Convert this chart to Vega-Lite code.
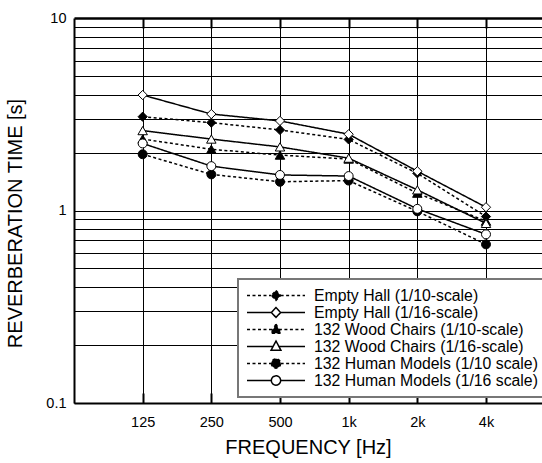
{
  "$schema": "https://vega.github.io/schema/vega-lite/v6.json",
  "width": 468,
  "height": 385,
  "autosize": {"type": "none"},
  "padding": {"left": 74, "top": 18, "right": 0, "bottom": 60},
  "background": "white",
  "config": {
    "view": {"stroke": null}, "font": "Liberation Sans",
    "legend": {
      "orient": "none", "symbolSize": 3364, "symbolStrokeWidth": 1.5, "symbolStrokeColor": "black", "symbolOpacity": 1,
      "labelFont": "Liberation Sans", "labelFontSize": 15.8, "labelColor": "black", "labelOffset": 8, "labelLimit": 400,
      "clipHeight": 17, "rowPadding": 0, "padding": 8, "fillColor": "white", "strokeColor": "#777777"
    }
  },
  "data": {"values": [
    {"series": "Empty Hall (1/10-scale)", "freq": 125, "rt": 3.07},
    {"series": "Empty Hall (1/10-scale)", "freq": 250, "rt": 2.86},
    {"series": "Empty Hall (1/10-scale)", "freq": 500, "rt": 2.62},
    {"series": "Empty Hall (1/10-scale)", "freq": 1000, "rt": 2.34},
    {"series": "Empty Hall (1/10-scale)", "freq": 2000, "rt": 1.56},
    {"series": "Empty Hall (1/10-scale)", "freq": 4000, "rt": 0.93},
    {"series": "132 Wood Chairs (1/10-scale)", "freq": 125, "rt": 2.35},
    {"series": "132 Wood Chairs (1/10-scale)", "freq": 250, "rt": 2.08},
    {"series": "132 Wood Chairs (1/10-scale)", "freq": 500, "rt": 1.94},
    {"series": "132 Wood Chairs (1/10-scale)", "freq": 1000, "rt": 1.85},
    {"series": "132 Wood Chairs (1/10-scale)", "freq": 2000, "rt": 1.23},
    {"series": "132 Wood Chairs (1/10-scale)", "freq": 4000, "rt": 0.88},
    {"series": "132 Human Models (1/10 scale)", "freq": 125, "rt": 1.96},
    {"series": "132 Human Models (1/10 scale)", "freq": 250, "rt": 1.54},
    {"series": "132 Human Models (1/10 scale)", "freq": 500, "rt": 1.41},
    {"series": "132 Human Models (1/10 scale)", "freq": 1000, "rt": 1.43},
    {"series": "132 Human Models (1/10 scale)", "freq": 2000, "rt": 0.99},
    {"series": "132 Human Models (1/10 scale)", "freq": 4000, "rt": 0.667},
    {"series": "Empty Hall (1/16-scale)", "freq": 125, "rt": 3.98},
    {"series": "Empty Hall (1/16-scale)", "freq": 250, "rt": 3.17},
    {"series": "Empty Hall (1/16-scale)", "freq": 500, "rt": 2.92},
    {"series": "Empty Hall (1/16-scale)", "freq": 1000, "rt": 2.49},
    {"series": "Empty Hall (1/16-scale)", "freq": 2000, "rt": 1.6},
    {"series": "Empty Hall (1/16-scale)", "freq": 4000, "rt": 1.04},
    {"series": "132 Wood Chairs (1/16-scale)", "freq": 125, "rt": 2.6},
    {"series": "132 Wood Chairs (1/16-scale)", "freq": 250, "rt": 2.35},
    {"series": "132 Wood Chairs (1/16-scale)", "freq": 500, "rt": 2.14},
    {"series": "132 Wood Chairs (1/16-scale)", "freq": 1000, "rt": 1.87},
    {"series": "132 Wood Chairs (1/16-scale)", "freq": 2000, "rt": 1.28},
    {"series": "132 Wood Chairs (1/16-scale)", "freq": 4000, "rt": 0.857},
    {"series": "132 Human Models (1/16 scale)", "freq": 125, "rt": 2.23},
    {"series": "132 Human Models (1/16 scale)", "freq": 250, "rt": 1.7},
    {"series": "132 Human Models (1/16 scale)", "freq": 500, "rt": 1.53},
    {"series": "132 Human Models (1/16 scale)", "freq": 1000, "rt": 1.51},
    {"series": "132 Human Models (1/16 scale)", "freq": 2000, "rt": 1.02},
    {"series": "132 Human Models (1/16 scale)", "freq": 4000, "rt": 0.752}
  ]},
  "resolve": {"axis": {"x": "independent"}},
  "encoding": {
    "y": {
      "field": "rt", "type": "quantitative",
      "scale": {"type": "log", "domain": [0.1, 10], "nice": false},
      "axis": {
        "values": [0.1, 0.2, 0.3, 0.4, 0.5, 0.6, 0.7, 0.8, 0.9, 1, 2, 3, 4, 5, 6, 7, 8, 9, 10],
        "labelExpr": "datum.value == 10 ? '10' : datum.value == 1 ? '1' : datum.value == 0.1 ? '0.1' : ''",
        "grid": true, "gridColor": "black",
        "gridWidth": {"condition": {"test": "datum.value == 10", "value": 2.5}, "value": 1},
        "domainColor": "black", "domainWidth": 2, "ticks": false,
        "labelPadding": 8, "labelFontSize": 14.5, "labelColor": "black", "labelFont": "Liberation Sans",
        "title": "REVERBERATION TIME  [s]", "titleFontSize": 20, "titleFontWeight": "normal", "titleColor": "black",
        "titleFont": "Liberation Sans", "titleX": -59, "titleY": 205, "titleBaseline": "middle", "titleAlign": "center"
      }
    }
  },
  "layer": [
    {
      "mark": {"type": "line", "color": "black", "strokeWidth": 1.5},
      "encoding": {
        "x": {
          "field": "freq", "type": "quantitative",
          "scale": {"type": "log", "base": 2, "domain": [62.5, 7040], "nice": false},
          "axis": {
            "orient": "bottom",
            "values": [125, 250, 500, 1000, 2000, 4000],
            "labelExpr": "datum.value >= 1000 ? (datum.value / 1000) + 'k' : '' + datum.value",
            "grid": true, "gridColor": "black", "gridWidth": 1,
            "domainColor": "black", "domainWidth": 2,
            "ticks": true, "tickColor": "black", "tickWidth": 2, "tickSize": -10,
            "labelPadding": 22, "labelFontSize": 14.5, "labelColor": "black", "labelFont": "Liberation Sans",
            "title": "FREQUENCY [Hz]", "titleFontSize": 20, "titleFontWeight": "normal", "titleColor": "black",
            "titleFont": "Liberation Sans", "titleY": 44, "titleBaseline": "middle"
          }
        },
        "strokeDash": {
          "field": "series", "type": "nominal",
          "scale": {
            "domain": ["Empty Hall (1/10-scale)", "Empty Hall (1/16-scale)", "132 Wood Chairs (1/10-scale)", "132 Wood Chairs (1/16-scale)", "132 Human Models (1/10 scale)", "132 Human Models (1/16 scale)"],
            "range": [[3, 2.5], [1, 0], [3, 2.5], [1, 0], [3, 2.5], [1, 0]]
          },
          "legend": {"title": null, "legendX": 164, "legendY": 261,
            "encode": {"symbols": {"update": {"stroke": {"value": "black"}, "strokeWidth": {"value": 1.5}}}, "legend": {"update": {"strokeWidth": {"value": 2}}}}}
        }
      }
    },
    {
      "transform": [{"filter": "indexof(datum.series, 'Empty') == 0"}],
      "mark": {"type": "point", "shape": "diamond", "filled": true, "stroke": "black", "strokeWidth": 1, "size": 85, "opacity": 1},
      "encoding": {
        "x": {
          "field": "freq", "type": "quantitative",
          "scale": {"type": "log", "base": 2, "domain": [62.5, 7040], "nice": false},
          "axis": {
            "orient": "top", "values": [125, 250, 500, 1000, 2000, 4000],
            "labels": false, "grid": false, "domain": false,
            "ticks": true, "tickColor": "black", "tickWidth": 2, "tickSize": -10, "title": null
          }
        },
        "fill": {
          "field": "series", "type": "nominal",
          "scale": {
            "domain": ["Empty Hall (1/10-scale)", "Empty Hall (1/16-scale)", "132 Wood Chairs (1/10-scale)", "132 Wood Chairs (1/16-scale)", "132 Human Models (1/10 scale)", "132 Human Models (1/16 scale)"],
            "range": ["black", "white", "black", "white", "black", "white"]
          },
          "legend": {"title": null, "legendX": 164, "legendY": 261,
            "encode": {"symbols": {"update": {"stroke": {"value": "black"}, "strokeWidth": {"value": 1.5}}}, "legend": {"update": {"strokeWidth": {"value": 2}}}}}
        }
      }
    },
    {
      "transform": [{"filter": "indexof(datum.series, 'Wood') >= 0"}],
      "mark": {"type": "point", "shape": "triangle-up", "filled": true, "stroke": "black", "strokeWidth": 1, "size": 90, "opacity": 1},
      "encoding": {
        "x": {
          "field": "freq", "type": "quantitative",
          "scale": {"type": "log", "base": 2, "domain": [62.5, 7040], "nice": false},
          "axis": null
        },
        "fill": {"field": "series", "type": "nominal", "legend": {"title": null, "legendX": 164, "legendY": 261,
            "encode": {"symbols": {"update": {"stroke": {"value": "black"}, "strokeWidth": {"value": 1.5}}}, "legend": {"update": {"strokeWidth": {"value": 2}}}}}}
      }
    },
    {
      "transform": [{"filter": "indexof(datum.series, 'Human') >= 0"}],
      "mark": {"type": "point", "shape": "circle", "filled": true, "stroke": "black", "strokeWidth": 1, "size": 80, "opacity": 1},
      "encoding": {
        "x": {
          "field": "freq", "type": "quantitative",
          "scale": {"type": "log", "base": 2, "domain": [62.5, 7040], "nice": false},
          "axis": null
        },
        "fill": {"field": "series", "type": "nominal", "legend": {"title": null, "legendX": 164, "legendY": 261,
            "encode": {"symbols": {"update": {"stroke": {"value": "black"}, "strokeWidth": {"value": 1.5}}}, "legend": {"update": {"strokeWidth": {"value": 2}}}}}}
      }
    },
    {
      "transform": [{"filter": "false"}],
      "mark": {"type": "point", "filled": true, "stroke": "black", "strokeWidth": 1.5, "opacity": 1},
      "encoding": {
        "shape": {
          "field": "series", "type": "nominal",
          "scale": {
            "domain": ["Empty Hall (1/10-scale)", "Empty Hall (1/16-scale)", "132 Wood Chairs (1/10-scale)", "132 Wood Chairs (1/16-scale)", "132 Human Models (1/10 scale)", "132 Human Models (1/16 scale)"],
            "range": [
              "M-1,0L-0.16,0M0.16,0L1,0M0,-0.17L0.16,0L0,0.17L-0.16,0Z",
              "M-1,0L-0.16,0M0.16,0L1,0M0,-0.17L0.16,0L0,0.17L-0.16,0Z",
              "M-1,0L-0.1,0M0.1,0L1,0M0,-0.19L0.17,0.13L-0.17,0.13Z",
              "M-1,0L-0.1,0M0.1,0L1,0M0,-0.19L0.17,0.13L-0.17,0.13Z",
              "M-1,0L-0.16,0M0.16,0L1,0M-0.16,0A0.16,0.16,0,1,0,0.16,0A0.16,0.16,0,1,0,-0.16,0Z",
              "M-1,0L-0.16,0M0.16,0L1,0M-0.16,0A0.16,0.16,0,1,0,0.16,0A0.16,0.16,0,1,0,-0.16,0Z"
            ]
          },
          "legend": {"title": null, "legendX": 164, "legendY": 261,
            "encode": {"symbols": {"update": {"stroke": {"value": "black"}, "strokeWidth": {"value": 1.5}}}, "legend": {"update": {"strokeWidth": {"value": 2}}}}}
        },
        "fill": {"field": "series", "type": "nominal", "legend": {"title": null, "legendX": 164, "legendY": 261,
            "encode": {"symbols": {"update": {"stroke": {"value": "black"}, "strokeWidth": {"value": 1.5}}}, "legend": {"update": {"strokeWidth": {"value": 2}}}}}},
        "strokeDash": {"field": "series", "type": "nominal", "legend": {"title": null, "legendX": 164, "legendY": 261,
            "encode": {"symbols": {"update": {"stroke": {"value": "black"}, "strokeWidth": {"value": 1.5}}}, "legend": {"update": {"strokeWidth": {"value": 2}}}}}}
      }
    }
  ]
}
